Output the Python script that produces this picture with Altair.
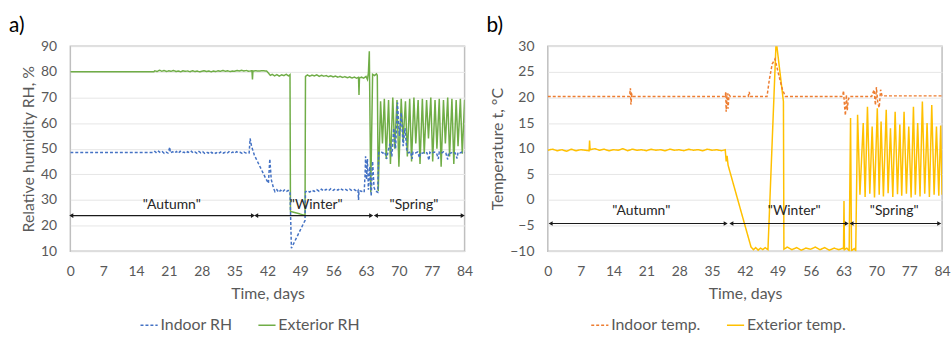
import altair as alt
import pandas as pd

# ---------------- data ----------------
x_ticks = [0, 7, 14, 21, 28, 35, 42, 49, 56, 63, 70, 77, 84]
rh_ticks = [10, 20, 30, 40, 50, 60, 70, 80, 90]
t_ticks = [-10, -5, 0, 5, 10, 15, 20, 25, 30]

rh_series = ["Indoor RH", "Exterior RH"]
t_series = ["Indoor temp.", "Exterior temp."]

exterior_rh = [
    (0, 80.0), (17.8, 80.0), (18.0, 80.4), (18.5, 80.1), (19.0, 80.6), (19.5, 80.2),
    (20.0, 80.5), (20.5, 80.1), (21.0, 80.4), (21.5, 80.2), (22.0, 80.5), (22.5, 80.1),
    (23.0, 80.3), (23.5, 80.0), (24.0, 80.4), (24.5, 80.2), (25.0, 80.3), (25.5, 80.0),
    (26.0, 80.4), (26.5, 80.1), (27.0, 80.3), (27.5, 80.0), (28.0, 80.2), (28.5, 80.4),
    (29.0, 80.1), (29.5, 80.3), (30.0, 80.0), (30.5, 80.3), (31.0, 80.1), (31.5, 80.4),
    (32.0, 80.2), (32.5, 80.5), (33.0, 80.2), (33.5, 80.4), (34.0, 80.1), (34.5, 80.3),
    (35.0, 80.2), (35.5, 80.5), (36.0, 80.3), (36.5, 80.6), (37.0, 80.3), (37.5, 80.5),
    (38.0, 80.2), (38.7, 80.4), (38.8, 77.0), (38.9, 80.3), (39.5, 80.4), (40.0, 80.3),
    (41.0, 80.4), (41.8, 80.3), (42.2, 79.5), (42.6, 78.6), (43.0, 79.0), (43.5, 78.4),
    (44.0, 78.9), (44.5, 78.3), (45.0, 78.8), (45.5, 78.5), (46.0, 79.0), (46.5, 78.4),
    (46.8, 78.9), (46.9, 25.5), (50.0, 24.0), (50.1, 78.2), (50.5, 78.8), (51.0, 78.3),
    (51.5, 78.7), (52.0, 78.4), (52.5, 78.8), (53.0, 78.2), (53.5, 78.6), (54.0, 78.3),
    (54.5, 78.5), (55.0, 78.1), (55.5, 78.4), (56.0, 78.0), (56.5, 78.3), (57.0, 77.9),
    (57.5, 78.2), (58.0, 77.8), (58.5, 78.1), (59.0, 77.7), (59.5, 78.0), (60.0, 77.6),
    (60.5, 77.9), (61.0, 77.5), (61.4, 77.8), (61.5, 71.0), (61.6, 77.6), (62.0, 77.9),
    (62.5, 77.5), (63.0, 78.2), (63.3, 77.0), (63.5, 79.5), (63.7, 88.0), (64.0, 33.0),
    (64.4, 79.0), (64.8, 78.5), (65.2, 79.2), (65.4, 78.6), (65.6, 33.5), (66.1, 68.5),
    (66.5, 52), (66.9, 69.5), (67.3, 46), (67.8, 69), (68.2, 44), (68.7, 70),
    (69.1, 50), (69.6, 69), (70.0, 43), (70.5, 69.5), (70.9, 53), (71.4, 68.5),
    (71.8, 47), (72.3, 69.5), (72.7, 45), (73.2, 70), (73.6, 52), (74.1, 69),
    (74.5, 44), (75.0, 69.5), (75.4, 48), (75.9, 69), (76.3, 54), (76.8, 70),
    (77.2, 45), (77.7, 69), (78.1, 50), (78.6, 69.5), (79.0, 43), (79.5, 69),
    (79.9, 52), (80.4, 70), (80.8, 47), (81.3, 69.5), (81.7, 44), (82.2, 69),
    (82.6, 51), (83.1, 69.5), (83.5, 48), (84.0, 69),
]

indoor_rh = [
    (0, 48.5), (17.8, 48.5), (18.0, 48.9), (18.4, 48.3), (18.8, 49.0), (19.2, 48.4),
    (19.6, 48.8), (20.0, 48.2), (20.4, 48.7), (20.8, 48.3), (21.2, 50.6), (21.3, 48.4),
    (21.8, 48.8), (22.2, 48.3), (22.6, 48.9), (23.0, 48.2), (23.4, 49.0), (23.8, 48.4),
    (24.2, 48.7), (24.6, 48.2), (25.0, 48.8), (25.4, 48.4), (25.8, 49.0), (26.2, 48.3),
    (26.6, 48.7), (27.0, 48.2), (27.4, 48.9), (27.8, 48.4), (28.2, 48.8), (28.6, 48.2),
    (29.0, 48.7), (29.4, 48.3), (29.8, 48.9), (30.2, 48.3), (30.6, 48.7), (31.0, 48.2),
    (31.4, 48.8), (31.8, 48.4), (32.2, 48.9), (32.6, 48.3), (33.0, 48.6), (33.4, 48.2),
    (33.8, 48.8), (34.2, 48.3), (34.6, 48.7), (35.0, 48.2), (35.4, 48.8), (35.8, 48.4),
    (36.2, 48.6), (36.6, 48.2), (37.0, 48.7), (37.4, 48.3), (37.8, 48.6), (38.1, 48.4),
    (38.3, 54.0), (38.6, 51.0), (39.2, 47.5), (40.0, 44.5), (40.8, 41.5), (41.6, 38.5),
    (42.2, 36.5), (42.5, 46.0), (42.8, 38.0), (43.3, 34.5), (43.6, 33.2), (44.0, 34.0),
    (44.4, 33.0), (44.8, 33.8), (45.2, 33.1), (45.6, 33.9), (46.0, 33.2), (46.4, 33.7),
    (46.8, 33.3), (47.1, 11.2), (50.0, 22.0), (50.1, 33.2), (50.5, 33.6), (51.0, 33.1),
    (51.5, 33.8), (52.0, 33.3), (52.5, 34.0), (53.0, 33.4), (53.5, 34.2), (54.0, 33.5),
    (54.5, 34.1), (55.0, 33.6), (55.5, 34.4), (56.0, 33.7), (56.5, 34.3), (57.0, 33.8),
    (57.5, 34.5), (58.0, 33.9), (58.5, 34.3), (59.0, 33.7), (59.5, 34.2), (60.0, 33.6),
    (60.5, 34.0), (61.0, 33.5), (61.3, 33.9), (61.4, 30.0), (61.5, 33.6), (62.0, 33.4),
    (62.6, 33.0), (62.8, 40.0), (62.9, 47.0), (63.1, 38.0), (63.3, 46.0), (63.5, 34.0),
    (63.8, 43.0), (64.1, 31.5), (64.4, 45.0), (64.7, 35.0), (65.0, 33.5), (65.5, 33.0),
    (65.7, 48.5), (66.2, 48.8), (66.6, 48.3), (67.0, 48.7), (67.4, 46.0), (67.7, 49.0),
    (68.1, 52.0), (68.5, 47.0), (68.9, 58.0), (69.3, 50.0), (69.7, 68.0), (70.1, 55.0),
    (70.5, 64.0), (70.9, 51.0), (71.3, 58.0), (71.7, 48.8), (72.1, 48.4), (72.5, 48.8),
    (72.8, 46.0), (73.0, 48.6), (73.5, 48.3), (74.0, 48.7), (74.4, 46.5), (74.6, 48.5),
    (75.0, 48.2), (75.5, 48.7), (76.0, 48.3), (76.4, 45.5), (76.6, 48.6), (77.0, 48.2),
    (77.5, 48.7), (78.0, 48.4), (78.4, 46.0), (78.6, 48.6), (79.0, 48.2), (79.5, 48.8),
    (80.0, 48.3), (80.4, 45.8), (80.6, 48.5), (81.0, 48.2), (81.5, 48.7), (82.0, 48.3),
    (82.4, 46.2), (82.6, 48.6), (83.0, 48.3), (83.5, 48.7), (84.0, 48.4),
]

exterior_temp = [
    (0, 9.7), (1, 9.9), (2, 9.6), (3, 9.8), (4, 9.5), (5, 9.9), (6, 9.6), (7, 9.8),
    (8, 9.7), (8.8, 9.6), (8.9, 11.6), (9.0, 9.8), (10, 10.0), (11, 9.7), (12, 9.9),
    (13, 9.6), (14, 9.8), (15, 9.7), (16, 10.0), (17, 9.6), (18, 9.9), (19, 9.7),
    (20, 9.8), (21, 9.6), (22, 9.9), (23, 9.7), (24, 9.8), (25, 9.6), (26, 9.9),
    (27, 9.7), (28, 9.8), (29, 9.6), (30, 9.9), (31, 9.7), (32, 9.8), (33, 9.6),
    (34, 9.9), (35, 9.7), (36, 9.8), (37, 9.6), (37.8, 9.8), (38.0, 7.5), (38.2, 8.6),
    (38.4, 6.8), (43.3, -9.2), (43.8, -9.7), (44.3, -9.3), (44.8, -9.8), (45.3, -9.4),
    (45.8, -9.7), (46.3, -9.3), (46.9, -9.7), (48.6, 30.0), (48.8, 30.0), (50.2, 19.2),
    (50.3, -9.6), (51, -9.2), (52, -9.7), (53, -9.3), (54, -9.8), (55, -9.4), (56, -9.6),
    (57, -9.2), (58, -9.7), (59, -9.3), (60, -9.8), (61, -9.4), (62, -9.7), (62.9, -9.4),
    (63.0, -9.6), (63.1, -0.2), (63.2, -9.7), (63.7, -9.4), (64.2, -9.9), (64.5, 16.0),
    (64.7, -9.9), (65.3, -9.5), (65.6, -9.9), (66.0, 16.6), (66.5, 1.0), (67.2, 15.0),
    (67.6, 0.6), (68.1, 18.2), (68.6, 1.2), (69.1, 14.3), (69.6, 0.5), (70.2, 17.9),
    (70.6, 1.0), (71.0, 15.3), (71.5, 0.7), (72.1, 17.6), (72.5, 1.3), (73.0, 14.0),
    (73.5, 0.6), (74.0, 17.2), (74.5, 1.1), (75.0, 14.7), (75.4, 0.8), (75.9, 17.2),
    (76.4, 1.2), (76.9, 14.3), (77.4, 0.5), (77.9, 18.2), (78.3, 1.0), (78.8, 15.0),
    (79.3, 0.7), (79.8, 19.2), (80.3, 1.2), (80.8, 15.0), (81.3, 0.6), (81.8, 18.5),
    (82.3, 1.0), (82.8, 14.3), (83.3, 0.8), (83.7, 14.5), (84.0, 1.0),
]

indoor_temp = [
    (0, 20.2), (17.4, 20.2), (17.6, 21.8), (17.7, 18.6), (17.9, 20.6), (18.1, 20.2),
    (37.8, 20.2), (37.9, 21.0), (38.0, 17.2), (38.2, 20.8), (38.4, 17.8), (38.6, 20.5),
    (38.9, 20.2), (42.7, 20.2), (42.9, 21.1), (43.1, 20.2), (46.7, 20.2), (47.2, 23.5),
    (47.8, 26.5), (48.4, 27.5), (49.3, 24.0), (50.0, 21.5), (50.6, 20.2), (62.8, 20.2),
    (63.0, 21.3), (63.2, 18.5), (63.4, 16.5), (63.6, 20.5), (63.8, 17.5), (64.0, 19.5),
    (64.3, 20.2), (69.0, 20.2), (69.5, 21.5), (69.8, 18.5), (70.0, 22.0), (70.3, 19.0),
    (70.6, 18.0), (70.9, 21.5), (71.2, 20.3), (84, 20.3),
]

season_labels = ['"Autumn"', '"Winter"', '"Spring"']
# panel a annotations
a_arrow_start = [0.2, 39.6, 65.1]
a_arrow_end = [38.9, 64.1, 83.6]
a_arrow_level = 23.9
a_label_day = [21.6, 52.4, 73.2]
a_label_level = 25.5
# panel b annotations
b_arrow_start = [0.6, 39.1, 64.7]
b_arrow_end = [37.9, 63.7, 83.4]
b_arrow_level = -4.6
b_label_day = [19.9, 52.5, 73.8]
b_label_level = -3.6

FONT = "Lato"
GRAY = "#595959"


def series_frame(pairs_by_name):
    rows = []
    for name, pairs in pairs_by_name:
        for i, (d, v) in enumerate(pairs):
            rows.append({"day": d, "value": v, "series": name, "order": i})
    return pd.DataFrame(rows)


def panel(lines_df, names, colors, ydomain, yticks, ytitle,
          arr_start, arr_end, arr_level, lab_day, lab_level, tag, width, legend_x):
    xscale = alt.Scale(domain=[0, 84], nice=False, zero=False)
    yscale = alt.Scale(domain=ydomain, nice=False, zero=False)
    xaxis = alt.Axis(values=x_ticks, title="Time, days", grid=False,
                     labelPadding=14, titlePadding=7, labelOverlap=False,
                     labelFlush=False, tickCount=13)
    yaxis = alt.Axis(values=yticks, title=ytitle, labelPadding=14, titlePadding=4,
                     labelOverlap=False, tickCount=9)

    def X(field):
        return alt.X(field, scale=xscale, axis=xaxis)

    def Y(field):
        return alt.Y(field, scale=yscale, axis=yaxis)

    leg = alt.Legend(title=None, orient="none", legendX=legend_x, legendY=272,
                     direction="horizontal", symbolType="stroke", symbolSize=300,
                     symbolStrokeWidth=1.5, labelFont=FONT, labelFontSize=16,
                     labelColor=GRAY, labelOffset=2, columnPadding=22)
    lines = alt.Chart(lines_df).mark_line(strokeWidth=1.5, clip=True).encode(
        x=X("day:Q"),
        y=Y("value:Q"),
        color=alt.Color("series:N", scale=alt.Scale(domain=names, range=colors), legend=leg),
        strokeDash=alt.StrokeDash("series:N",
                                  scale=alt.Scale(domain=names, range=[[3, 2], [1, 0]]),
                                  legend=leg),
        detail="series:N",
        order="order:Q",
    )
    arr_df = pd.DataFrame({"s": arr_start, "e": arr_end,
                           "lvl": [arr_level] * len(arr_start)})
    rules = alt.Chart(arr_df).mark_rule(color="#1a1a1a", strokeWidth=1.2).encode(
        x=X("s:Q"), x2="e:Q", y=Y("lvl:Q"))
    heads_l = alt.Chart(arr_df).mark_point(shape="triangle-left", filled=True,
                                           color="#1a1a1a", size=22, opacity=1).encode(
        x=X("s:Q"), y=Y("lvl:Q"))
    heads_r = alt.Chart(arr_df).mark_point(shape="triangle-right", filled=True,
                                           color="#1a1a1a", size=22, opacity=1).encode(
        x=X("e:Q"), y=Y("lvl:Q"))
    lab_df = pd.DataFrame({"d": lab_day, "lvl": [lab_level] * len(lab_day),
                           "t": season_labels})
    labels = alt.Chart(lab_df).mark_text(font=FONT, fontSize=14, color="#262626",
                                         baseline="bottom").encode(
        x=X("d:Q"), y=Y("lvl:Q"), text="t:N")
    tag_chart = alt.Chart(pd.DataFrame({"t": [tag]})).mark_text(
        font=FONT, fontSize=21, color="black", align="left", baseline="top").encode(
        x=alt.value(-62), y=alt.value(-31), text="t:N")
    return alt.layer(lines, rules, heads_l, heads_r, labels, tag_chart).properties(
        width=width, height=207)


df_a = series_frame([("Exterior RH", exterior_rh), ("Indoor RH", indoor_rh)])
df_b = series_frame([("Exterior temp.", exterior_temp), ("Indoor temp.", indoor_temp)])

chart_a = panel(df_a, rh_series, ["#4472C4", "#70AD47"], [10, 90], rh_ticks,
                "Relative humidity RH, %", a_arrow_start, a_arrow_end, a_arrow_level,
                a_label_day, a_label_level, "a)", 398, 70)
chart_b = panel(df_b, t_series, ["#ED7D31", "#FFC000"], [-10, 30], t_ticks,
                "Temperature t, °C", b_arrow_start, b_arrow_end, b_arrow_level,
                b_label_day, b_label_level, "b)", 398, 43)

chart = alt.hconcat(chart_a, chart_b, spacing=12).resolve_scale(
    color="independent", strokeDash="independent"
).resolve_legend(color="independent", strokeDash="independent").properties(
    padding={"left": 8, "top": 13, "right": 0, "bottom": 0},
    background="white",
).configure_view(
    stroke="#BFBFBF", strokeWidth=1.5
).configure_axis(
    labelFont=FONT, labelFontSize=14, labelColor=GRAY,
    titleFont=FONT, titleFontSize=16, titleColor=GRAY, titleFontWeight="normal",
    ticks=False, tickSize=0, domain=False, gridColor="#E6E6E6", gridWidth=1,
    labelOverlap=False,
)

chart.save("out.html", embed_options={"renderer": "svg", "actions": False})
